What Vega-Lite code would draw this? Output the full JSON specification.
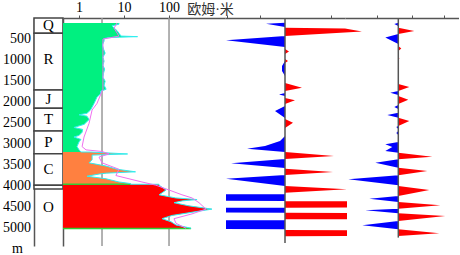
{
  "$schema": "https://vega.github.io/schema/vega-lite/v6.json",
  "padding": {"left": 3, "top": 0, "right": 0, "bottom": 0},
  "background": "white",
  "spacing": 0,
  "bounds": "flush",
  "config": {
    "view": {"stroke": null},
    "axis": {"grid": false, "labelFont": "Liberation Serif", "titleFont": "Liberation Serif", "labelColor": "black", "domainColor": "#555", "tickColor": "#555"}
  },
  "resolve": {"scale": {"color": "independent"}},
  "datasets": {
    "strat": [
      {"label": "Q", "top": 0, "bottom": 364, "mid": 170},
      {"label": "R", "top": 364, "bottom": 1714, "mid": 980},
      {"label": "J", "top": 1714, "bottom": 2150, "mid": 1930},
      {"label": "T", "top": 2150, "bottom": 2690, "mid": 2410},
      {"label": "P", "top": 2690, "bottom": 3231, "mid": 2950},
      {"label": "C", "top": 3231, "bottom": 3985, "mid": 3600},
      {"label": "", "top": 3985, "bottom": 4070, "mid": 4030},
      {"label": "O", "top": 4070, "bottom": 5430, "mid": 4500}
    ],
    "depthlabels": [
      {"depth": 500, "txt": "500"}, {"depth": 1000, "txt": "1000"}, {"depth": 1500, "txt": "1500"},
      {"depth": 2000, "txt": "2000"}, {"depth": 2500, "txt": "2500"}, {"depth": 3000, "txt": "3000"},
      {"depth": 3500, "txt": "3500"}, {"depth": 4000, "txt": "4000"}, {"depth": 4500, "txt": "4500"},
      {"depth": 5000, "txt": "5000"}
    ],
    "grid": [{"res": 3.24}, {"res": 100}],
    "greenlines": [{"depth": 4017, "res": 14}, {"depth": 5120, "res": 308}],
    "axisrule1": [{"amp": 0, "top": 0, "bottom": 5360}],
    "axisrule2": [{"amp": 0, "top": 0, "bottom": 5230}],
    "log": [
      {"depth": 0, "res": 7.7, "unit": "g"},
      {"depth": 31, "res": 7.7, "unit": "g"},
      {"depth": 71, "res": 5.4, "unit": "g"},
      {"depth": 126, "res": 6.0, "unit": "g"},
      {"depth": 190, "res": 7.0, "unit": "g"},
      {"depth": 255, "res": 7.7, "unit": "g"},
      {"depth": 326, "res": 8.6, "unit": "g"},
      {"depth": 340, "res": 20, "unit": "g"},
      {"depth": 352, "res": 8, "unit": "g"},
      {"depth": 364, "res": 4.6, "unit": "g"},
      {"depth": 388, "res": 3.6, "unit": "g"},
      {"depth": 450, "res": 3.6, "unit": "g"},
      {"depth": 550, "res": 3.3, "unit": "g"},
      {"depth": 650, "res": 3.5, "unit": "g"},
      {"depth": 750, "res": 3.8, "unit": "g"},
      {"depth": 850, "res": 3.4, "unit": "g"},
      {"depth": 950, "res": 3.6, "unit": "g"},
      {"depth": 1050, "res": 3.4, "unit": "g"},
      {"depth": 1150, "res": 3.7, "unit": "g"},
      {"depth": 1250, "res": 3.5, "unit": "g"},
      {"depth": 1350, "res": 3.4, "unit": "g"},
      {"depth": 1450, "res": 3.8, "unit": "g"},
      {"depth": 1550, "res": 3.6, "unit": "g"},
      {"depth": 1650, "res": 4.0, "unit": "g"},
      {"depth": 1700, "res": 3.0, "unit": "g"},
      {"depth": 1760, "res": 3.0, "unit": "g"},
      {"depth": 1850, "res": 2.5, "unit": "g"},
      {"depth": 2007, "res": 2.15, "unit": "g"},
      {"depth": 2167, "res": 1.8, "unit": "g"},
      {"depth": 2250, "res": 1.5, "unit": "g"},
      {"depth": 2286, "res": 1.0, "unit": "g"},
      {"depth": 2320, "res": 1.5, "unit": "g"},
      {"depth": 2405, "res": 1.67, "unit": "g"},
      {"depth": 2524, "res": 1.3, "unit": "g"},
      {"depth": 2602, "res": 0.77, "unit": "g"},
      {"depth": 2650, "res": 1.2, "unit": "g"},
      {"depth": 2721, "res": 1.17, "unit": "g"},
      {"depth": 2800, "res": 1.0, "unit": "g"},
      {"depth": 2840, "res": 0.77, "unit": "g"},
      {"depth": 2900, "res": 1.1, "unit": "g"},
      {"depth": 2960, "res": 1.0, "unit": "g"},
      {"depth": 3079, "res": 0.9, "unit": "g"},
      {"depth": 3160, "res": 1.0, "unit": "g"},
      {"depth": 3214, "res": 1.1, "unit": "g"},
      {"depth": 3214, "res": 1.8, "unit": "o"},
      {"depth": 3262, "res": 12, "unit": "o"},
      {"depth": 3290, "res": 1.95, "unit": "o"},
      {"depth": 3405, "res": 1.95, "unit": "o"},
      {"depth": 3483, "res": 1.67, "unit": "o"},
      {"depth": 3564, "res": 4.0, "unit": "o"},
      {"depth": 3643, "res": 7.0, "unit": "o"},
      {"depth": 3707, "res": 18, "unit": "o"},
      {"depth": 3740, "res": 4, "unit": "o"},
      {"depth": 3762, "res": 2.8, "unit": "o"},
      {"depth": 3817, "res": 1.5, "unit": "o"},
      {"depth": 3881, "res": 4.0, "unit": "o"},
      {"depth": 3960, "res": 7.7, "unit": "o"},
      {"depth": 4000, "res": 14, "unit": "o"},
      {"depth": 4017, "res": 14, "unit": "o"},
      {"depth": 4017, "res": 60, "unit": "r"},
      {"depth": 4040, "res": 60, "unit": "r"},
      {"depth": 4160, "res": 86, "unit": "r"},
      {"depth": 4230, "res": 70, "unit": "r"},
      {"depth": 4279, "res": 60, "unit": "r"},
      {"depth": 4357, "res": 140, "unit": "r"},
      {"depth": 4398, "res": 420, "unit": "r"},
      {"depth": 4430, "res": 200, "unit": "r"},
      {"depth": 4476, "res": 129, "unit": "r"},
      {"depth": 4555, "res": 278, "unit": "r"},
      {"depth": 4636, "res": 900, "unit": "r"},
      {"depth": 4714, "res": 324, "unit": "r"},
      {"depth": 4793, "res": 117, "unit": "r"},
      {"depth": 4874, "res": 70, "unit": "r"},
      {"depth": 4952, "res": 111, "unit": "r"},
      {"depth": 5031, "res": 143, "unit": "r"},
      {"depth": 5111, "res": 308, "unit": "r"},
      {"depth": 5120, "res": 308, "unit": "r"}
    ],
    "smooth": [
      {"depth": 0, "res": 7.0}, {"depth": 130, "res": 6.0}, {"depth": 250, "res": 7.0},
      {"depth": 325, "res": 7.7}, {"depth": 365, "res": 5.1}, {"depth": 400, "res": 3.4},
      {"depth": 800, "res": 3.4}, {"depth": 1200, "res": 3.4}, {"depth": 1650, "res": 3.4},
      {"depth": 1700, "res": 3.24}, {"depth": 2007, "res": 2.5}, {"depth": 2167, "res": 1.95},
      {"depth": 2500, "res": 1.67}, {"depth": 2840, "res": 1.29}, {"depth": 3080, "res": 1.17},
      {"depth": 3160, "res": 1.43}, {"depth": 3200, "res": 3.24}, {"depth": 3260, "res": 4.64},
      {"depth": 3340, "res": 2.78}, {"depth": 3483, "res": 3.24}, {"depth": 3643, "res": 7.7},
      {"depth": 3800, "res": 6.6}, {"depth": 3960, "res": 25}, {"depth": 4040, "res": 51},
      {"depth": 4160, "res": 100}, {"depth": 4279, "res": 194}, {"depth": 4357, "res": 324},
      {"depth": 4476, "res": 464}, {"depth": 4636, "res": 664}, {"depth": 4755, "res": 324},
      {"depth": 4874, "res": 129}, {"depth": 4990, "res": 143}, {"depth": 5111, "res": 239}
    ],
    "w1": [
      {"depth": 112, "amp": 0, "s": "neg"}, {"depth": 136, "amp": -19, "s": "neg"}, {"depth": 214, "amp": 0, "s": "neg"},
      {"depth": 429, "amp": 0, "s": "neg"}, {"depth": 531, "amp": -59, "s": "neg"}, {"depth": 690, "amp": 0, "s": "neg"},
      {"depth": 1024, "amp": 0, "s": "neg"}, {"depth": 1143, "amp": -3, "s": "neg"}, {"depth": 1262, "amp": -3, "s": "neg"}, {"depth": 1381, "amp": 0, "s": "neg"},
      {"depth": 1786, "amp": 0, "s": "neg"}, {"depth": 1821, "amp": -6, "s": "neg"}, {"depth": 1857, "amp": 0, "s": "neg"},
      {"depth": 2095, "amp": 0, "s": "neg"}, {"depth": 2214, "amp": -10, "s": "neg"}, {"depth": 2381, "amp": 0, "s": "neg"},
      {"depth": 2810, "amp": 0, "s": "neg"}, {"depth": 2929, "amp": -5, "s": "neg"}, {"depth": 3048, "amp": -20, "s": "neg"}, {"depth": 3112, "amp": -38, "s": "neg"}, {"depth": 3190, "amp": 0, "s": "neg"},
      {"depth": 3357, "amp": 0, "s": "neg"}, {"depth": 3460, "amp": -54, "s": "neg"}, {"depth": 3571, "amp": 0, "s": "neg"},
      {"depth": 3738, "amp": 0, "s": "neg"}, {"depth": 3826, "amp": -59, "s": "neg"}, {"depth": 4000, "amp": 0, "s": "neg"},
      {"depth": 4190, "amp": 0, "s": "neg"}, {"depth": 4195, "amp": -59, "s": "neg"}, {"depth": 4352, "amp": -59, "s": "neg"}, {"depth": 4357, "amp": 0, "s": "neg"},
      {"depth": 4517, "amp": 0, "s": "neg"}, {"depth": 4521, "amp": -59, "s": "neg"}, {"depth": 4631, "amp": -59, "s": "neg"}, {"depth": 4636, "amp": 0, "s": "neg"},
      {"depth": 4810, "amp": 0, "s": "neg"}, {"depth": 4814, "amp": -59, "s": "neg"}, {"depth": 5024, "amp": -59, "s": "neg"}, {"depth": 5031, "amp": 0, "s": "neg"},
      {"depth": 231, "amp": 0, "s": "pos"}, {"depth": 250, "amp": 60, "s": "pos"}, {"depth": 320, "amp": 77, "s": "pos"}, {"depth": 429, "amp": 0, "s": "pos"},
      {"depth": 738, "amp": 0, "s": "pos"}, {"depth": 798, "amp": 4, "s": "pos"}, {"depth": 857, "amp": 0, "s": "pos"},
      {"depth": 976, "amp": 0, "s": "pos"}, {"depth": 1024, "amp": 3, "s": "pos"}, {"depth": 1071, "amp": 0, "s": "pos"},
      {"depth": 1548, "amp": 0, "s": "pos"}, {"depth": 1660, "amp": 17, "s": "pos"}, {"depth": 1738, "amp": 0, "s": "pos"},
      {"depth": 1905, "amp": 0, "s": "pos"}, {"depth": 1960, "amp": 10, "s": "pos"}, {"depth": 2048, "amp": 0, "s": "pos"},
      {"depth": 2405, "amp": 0, "s": "pos"}, {"depth": 2493, "amp": 8, "s": "pos"}, {"depth": 2619, "amp": 0, "s": "pos"},
      {"depth": 3190, "amp": 0, "s": "pos"}, {"depth": 3286, "amp": 49, "s": "pos"}, {"depth": 3357, "amp": 0, "s": "pos"},
      {"depth": 3588, "amp": 0, "s": "pos"}, {"depth": 3667, "amp": 48, "s": "pos"}, {"depth": 3738, "amp": 0, "s": "pos"},
      {"depth": 4000, "amp": 0, "s": "pos"}, {"depth": 4079, "amp": 62, "s": "pos"}, {"depth": 4159, "amp": 0, "s": "pos"},
      {"depth": 4362, "amp": 0, "s": "pos"}, {"depth": 4367, "amp": 62, "s": "pos"}, {"depth": 4512, "amp": 62, "s": "pos"}, {"depth": 4517, "amp": 0, "s": "pos"},
      {"depth": 4640, "amp": 0, "s": "pos"}, {"depth": 4645, "amp": 62, "s": "pos"}, {"depth": 4790, "amp": 62, "s": "pos"}, {"depth": 4795, "amp": 0, "s": "pos"},
      {"depth": 5048, "amp": 0, "s": "pos"}, {"depth": 5052, "amp": 62, "s": "pos"}, {"depth": 5190, "amp": 62, "s": "pos"}, {"depth": 5195, "amp": 0, "s": "pos"}
    ],
    "w2": [
      {"depth": 112, "amp": 0, "s": "neg"}, {"depth": 143, "amp": -4, "s": "neg"}, {"depth": 190, "amp": 0, "s": "neg"},
      {"depth": 381, "amp": 0, "s": "neg"}, {"depth": 464, "amp": -13, "s": "neg"}, {"depth": 619, "amp": 0, "s": "neg"},
      {"depth": 1738, "amp": 0, "s": "neg"}, {"depth": 1779, "amp": -8, "s": "neg"}, {"depth": 1833, "amp": 0, "s": "neg"},
      {"depth": 2071, "amp": 0, "s": "neg"}, {"depth": 2119, "amp": -4, "s": "neg"}, {"depth": 2167, "amp": 0, "s": "neg"},
      {"depth": 2255, "amp": 0, "s": "neg"}, {"depth": 2310, "amp": -11, "s": "neg"}, {"depth": 2374, "amp": 0, "s": "neg"},
      {"depth": 2571, "amp": 0, "s": "neg"}, {"depth": 2595, "amp": -2, "s": "neg"}, {"depth": 2643, "amp": 0, "s": "neg"},
      {"depth": 2690, "amp": 0, "s": "neg"}, {"depth": 2738, "amp": -2, "s": "neg"}, {"depth": 2786, "amp": 0, "s": "neg"},
      {"depth": 2952, "amp": 0, "s": "neg"}, {"depth": 3007, "amp": -13, "s": "neg"}, {"depth": 3071, "amp": -6, "s": "neg"}, {"depth": 3167, "amp": -13, "s": "neg"}, {"depth": 3207, "amp": 0, "s": "neg"},
      {"depth": 3364, "amp": 0, "s": "neg"}, {"depth": 3445, "amp": -23, "s": "neg"}, {"depth": 3564, "amp": 0, "s": "neg"},
      {"depth": 3745, "amp": 0, "s": "neg"}, {"depth": 3841, "amp": -50, "s": "neg"}, {"depth": 3983, "amp": 0, "s": "neg"},
      {"depth": 4238, "amp": 0, "s": "neg"}, {"depth": 4303, "amp": -29, "s": "neg"}, {"depth": 4381, "amp": 0, "s": "neg"},
      {"depth": 4540, "amp": 0, "s": "neg"}, {"depth": 4579, "amp": -33, "s": "neg"}, {"depth": 4650, "amp": 0, "s": "neg"},
      {"depth": 4833, "amp": 0, "s": "neg"}, {"depth": 4936, "amp": -36, "s": "neg"}, {"depth": 5031, "amp": 0, "s": "neg"},
      {"depth": 231, "amp": 0, "s": "pos"}, {"depth": 310, "amp": 16, "s": "pos"}, {"depth": 381, "amp": 0, "s": "pos"},
      {"depth": 667, "amp": 0, "s": "pos"}, {"depth": 726, "amp": 3, "s": "pos"}, {"depth": 786, "amp": 0, "s": "pos"},
      {"depth": 905, "amp": 0, "s": "pos"}, {"depth": 964, "amp": 1, "s": "pos"}, {"depth": 1024, "amp": 0, "s": "pos"},
      {"depth": 1571, "amp": 0, "s": "pos"}, {"depth": 1643, "amp": 11, "s": "pos"}, {"depth": 1738, "amp": 0, "s": "pos"},
      {"depth": 1857, "amp": 0, "s": "pos"}, {"depth": 1945, "amp": 10, "s": "pos"}, {"depth": 2048, "amp": 0, "s": "pos"},
      {"depth": 2374, "amp": 0, "s": "pos"}, {"depth": 2452, "amp": 11, "s": "pos"}, {"depth": 2571, "amp": 0, "s": "pos"},
      {"depth": 3207, "amp": 0, "s": "pos"}, {"depth": 3302, "amp": 34, "s": "pos"}, {"depth": 3364, "amp": 0, "s": "pos"},
      {"depth": 3564, "amp": 0, "s": "pos"}, {"depth": 3643, "amp": 29, "s": "pos"}, {"depth": 3745, "amp": 0, "s": "pos"},
      {"depth": 4000, "amp": 0, "s": "pos"}, {"depth": 4095, "amp": 31, "s": "pos"}, {"depth": 4238, "amp": 0, "s": "pos"},
      {"depth": 4381, "amp": 0, "s": "pos"}, {"depth": 4459, "amp": 42, "s": "pos"}, {"depth": 4540, "amp": 0, "s": "pos"},
      {"depth": 4650, "amp": 0, "s": "pos"}, {"depth": 4714, "amp": 47, "s": "pos"}, {"depth": 4833, "amp": 0, "s": "pos"},
      {"depth": 5031, "amp": 0, "s": "pos"}, {"depth": 5126, "amp": 41, "s": "pos"}, {"depth": 5190, "amp": 0, "s": "pos"}
    ]
  },
  "hconcat": [
    {
      "width": 29,
      "height": 228,
      "layer": [
        {
          "data": {"name": "strat"},
          "transform": [{"filter": "datum.label !== 'O'"}],
          "mark": {"type": "rect", "fill": "white", "stroke": "#444", "strokeWidth": 1.5},
          "encoding": {
            "y": {"field": "top", "type": "quantitative", "scale": {"domain": [0, 5430], "reverse": true, "nice": false},
              "axis": {"orient": "left", "labels": false, "ticks": false, "domainWidth": 1.5, "title": "m", "titleAngle": 0, "titleX": -17, "titleY": 234, "titleFontSize": 14, "titleFontWeight": "normal", "titleAlign": "center", "titleBaseline": "alphabetic", "titleColor": "black"}},
            "y2": {"field": "bottom"}
          }
        },
        {
          "data": {"name": "strat"},
          "transform": [{"filter": "datum.label !== ''"}],
          "mark": {"type": "text", "font": "Liberation Serif", "fontSize": 15, "color": "black"},
          "encoding": {
            "y": {"field": "mid", "type": "quantitative"},
            "text": {"field": "label"}
          }
        },
        {
          "data": {"name": "depthlabels"},
          "mark": {"type": "text", "font": "Liberation Serif", "fontSize": 14, "color": "black", "align": "right", "baseline": "middle", "dx": -17.5},
          "encoding": {
            "y": {"field": "depth", "type": "quantitative"},
            "text": {"field": "txt"}
          }
        }
      ]
    },
    {
      "width": 162,
      "height": 228,
      "layer": [
        {
          "data": {"name": "grid"},
          "mark": {"type": "rule", "color": "#999", "strokeWidth": 1.5},
          "encoding": {
            "x": {"field": "res", "type": "quantitative", "scale": {"type": "log", "domain": [0.44, 1755], "nice": false},
              "axis": {"orient": "top", "values": [1, 10, 100], "format": "d", "labelFontSize": 14, "labelPadding": 1, "tickSize": 3, "domainWidth": 1.5, "title": "欧姆·米", "titleFont": "Liberation Serif, Noto Sans CJK SC", "titleFontSize": 14, "titleFontWeight": "normal", "titleX": 147, "titleY": -9, "titleAlign": "center", "titleBaseline": "middle", "titleColor": "#333"}}
          }
        },
        {
          "data": {"name": "log"},
          "mark": {"type": "area", "orient": "horizontal"},
          "encoding": {
            "y": {"field": "depth", "type": "quantitative", "scale": {"domain": [0, 5430], "reverse": true, "nice": false},
              "axis": {"orient": "left", "labels": false, "ticks": false, "domainWidth": 1.5, "title": null}},
            "x": {"field": "res", "type": "quantitative", "stack": null},
            "color": {"field": "unit", "type": "nominal", "scale": {"domain": ["g", "o", "r"], "range": ["#00F080", "#FF8040", "#FF0000"]}, "legend": null}
          }
        },
        {
          "data": {"name": "greenlines"},
          "mark": {"type": "bar", "orient": "horizontal", "color": "#33CC33", "size": 1.5},
          "encoding": {
            "y": {"field": "depth", "type": "quantitative"},
            "x": {"field": "res", "type": "quantitative", "stack": null}
          }
        },
        {
          "data": {"name": "log"},
          "mark": {"type": "line", "color": "#30EEF0", "strokeWidth": 1},
          "encoding": {
            "y": {"field": "depth", "type": "quantitative"},
            "x": {"field": "res", "type": "quantitative"},
            "order": {"field": "depth", "type": "quantitative"}
          }
        },
        {
          "data": {"name": "smooth"},
          "mark": {"type": "line", "color": "#F070F0", "strokeWidth": 1},
          "encoding": {
            "y": {"field": "depth", "type": "quantitative"},
            "x": {"field": "res", "type": "quantitative"},
            "order": {"field": "depth", "type": "quantitative"}
          }
        }
      ]
    },
    {
      "width": 120,
      "height": 228,
      "layer": [
        {
          "data": {"name": "w1"},
          "mark": {"type": "area", "orient": "horizontal"},
          "encoding": {
            "y": {"field": "depth", "type": "quantitative", "scale": {"domain": [0, 5430], "reverse": true, "nice": false}, "axis": null},
            "x": {"field": "amp", "type": "quantitative", "stack": null, "scale": {"domain": [-60, 60], "nice": false},
              "axis": {"orient": "top", "values": [-58, -50, -41, -33, -25, -17, -8, 0, 46, 56], "labels": false, "tickSize": 3, "domainWidth": 1.5, "title": null}},
            "color": {"field": "s", "type": "nominal", "scale": {"domain": ["neg", "pos"], "range": ["#0000FF", "#FF0000"]}, "legend": null}
          }
        },
        {
          "data": {"name": "axisrule1"},
          "mark": {"type": "rule", "color": "#555", "strokeWidth": 1.5},
          "encoding": {
            "x": {"field": "amp", "type": "quantitative"},
            "y": {"field": "top", "type": "quantitative"},
            "y2": {"field": "bottom"}
          }
        }
      ]
    },
    {
      "width": 114,
      "height": 228,
      "layer": [
        {
          "data": {"name": "w2"},
          "mark": {"type": "area", "orient": "horizontal"},
          "encoding": {
            "y": {"field": "depth", "type": "quantitative", "scale": {"domain": [0, 5430], "reverse": true, "nice": false}, "axis": null},
            "x": {"field": "amp", "type": "quantitative", "stack": null, "scale": {"domain": [-53.3, 60.7], "nice": false},
              "axis": {"orient": "top", "values": [-21, 0, 14, 24, 46], "labels": false, "tickSize": 3, "domainWidth": 1.5, "title": null}},
            "color": {"field": "s", "type": "nominal", "scale": {"domain": ["neg", "pos"], "range": ["#0000FF", "#FF0000"]}, "legend": null}
          }
        },
        {
          "data": {"name": "axisrule2"},
          "mark": {"type": "rule", "color": "#555", "strokeWidth": 1.5},
          "encoding": {
            "x": {"field": "amp", "type": "quantitative"},
            "y": {"field": "top", "type": "quantitative"},
            "y2": {"field": "bottom"}
          }
        }
      ]
    }
  ]
}
